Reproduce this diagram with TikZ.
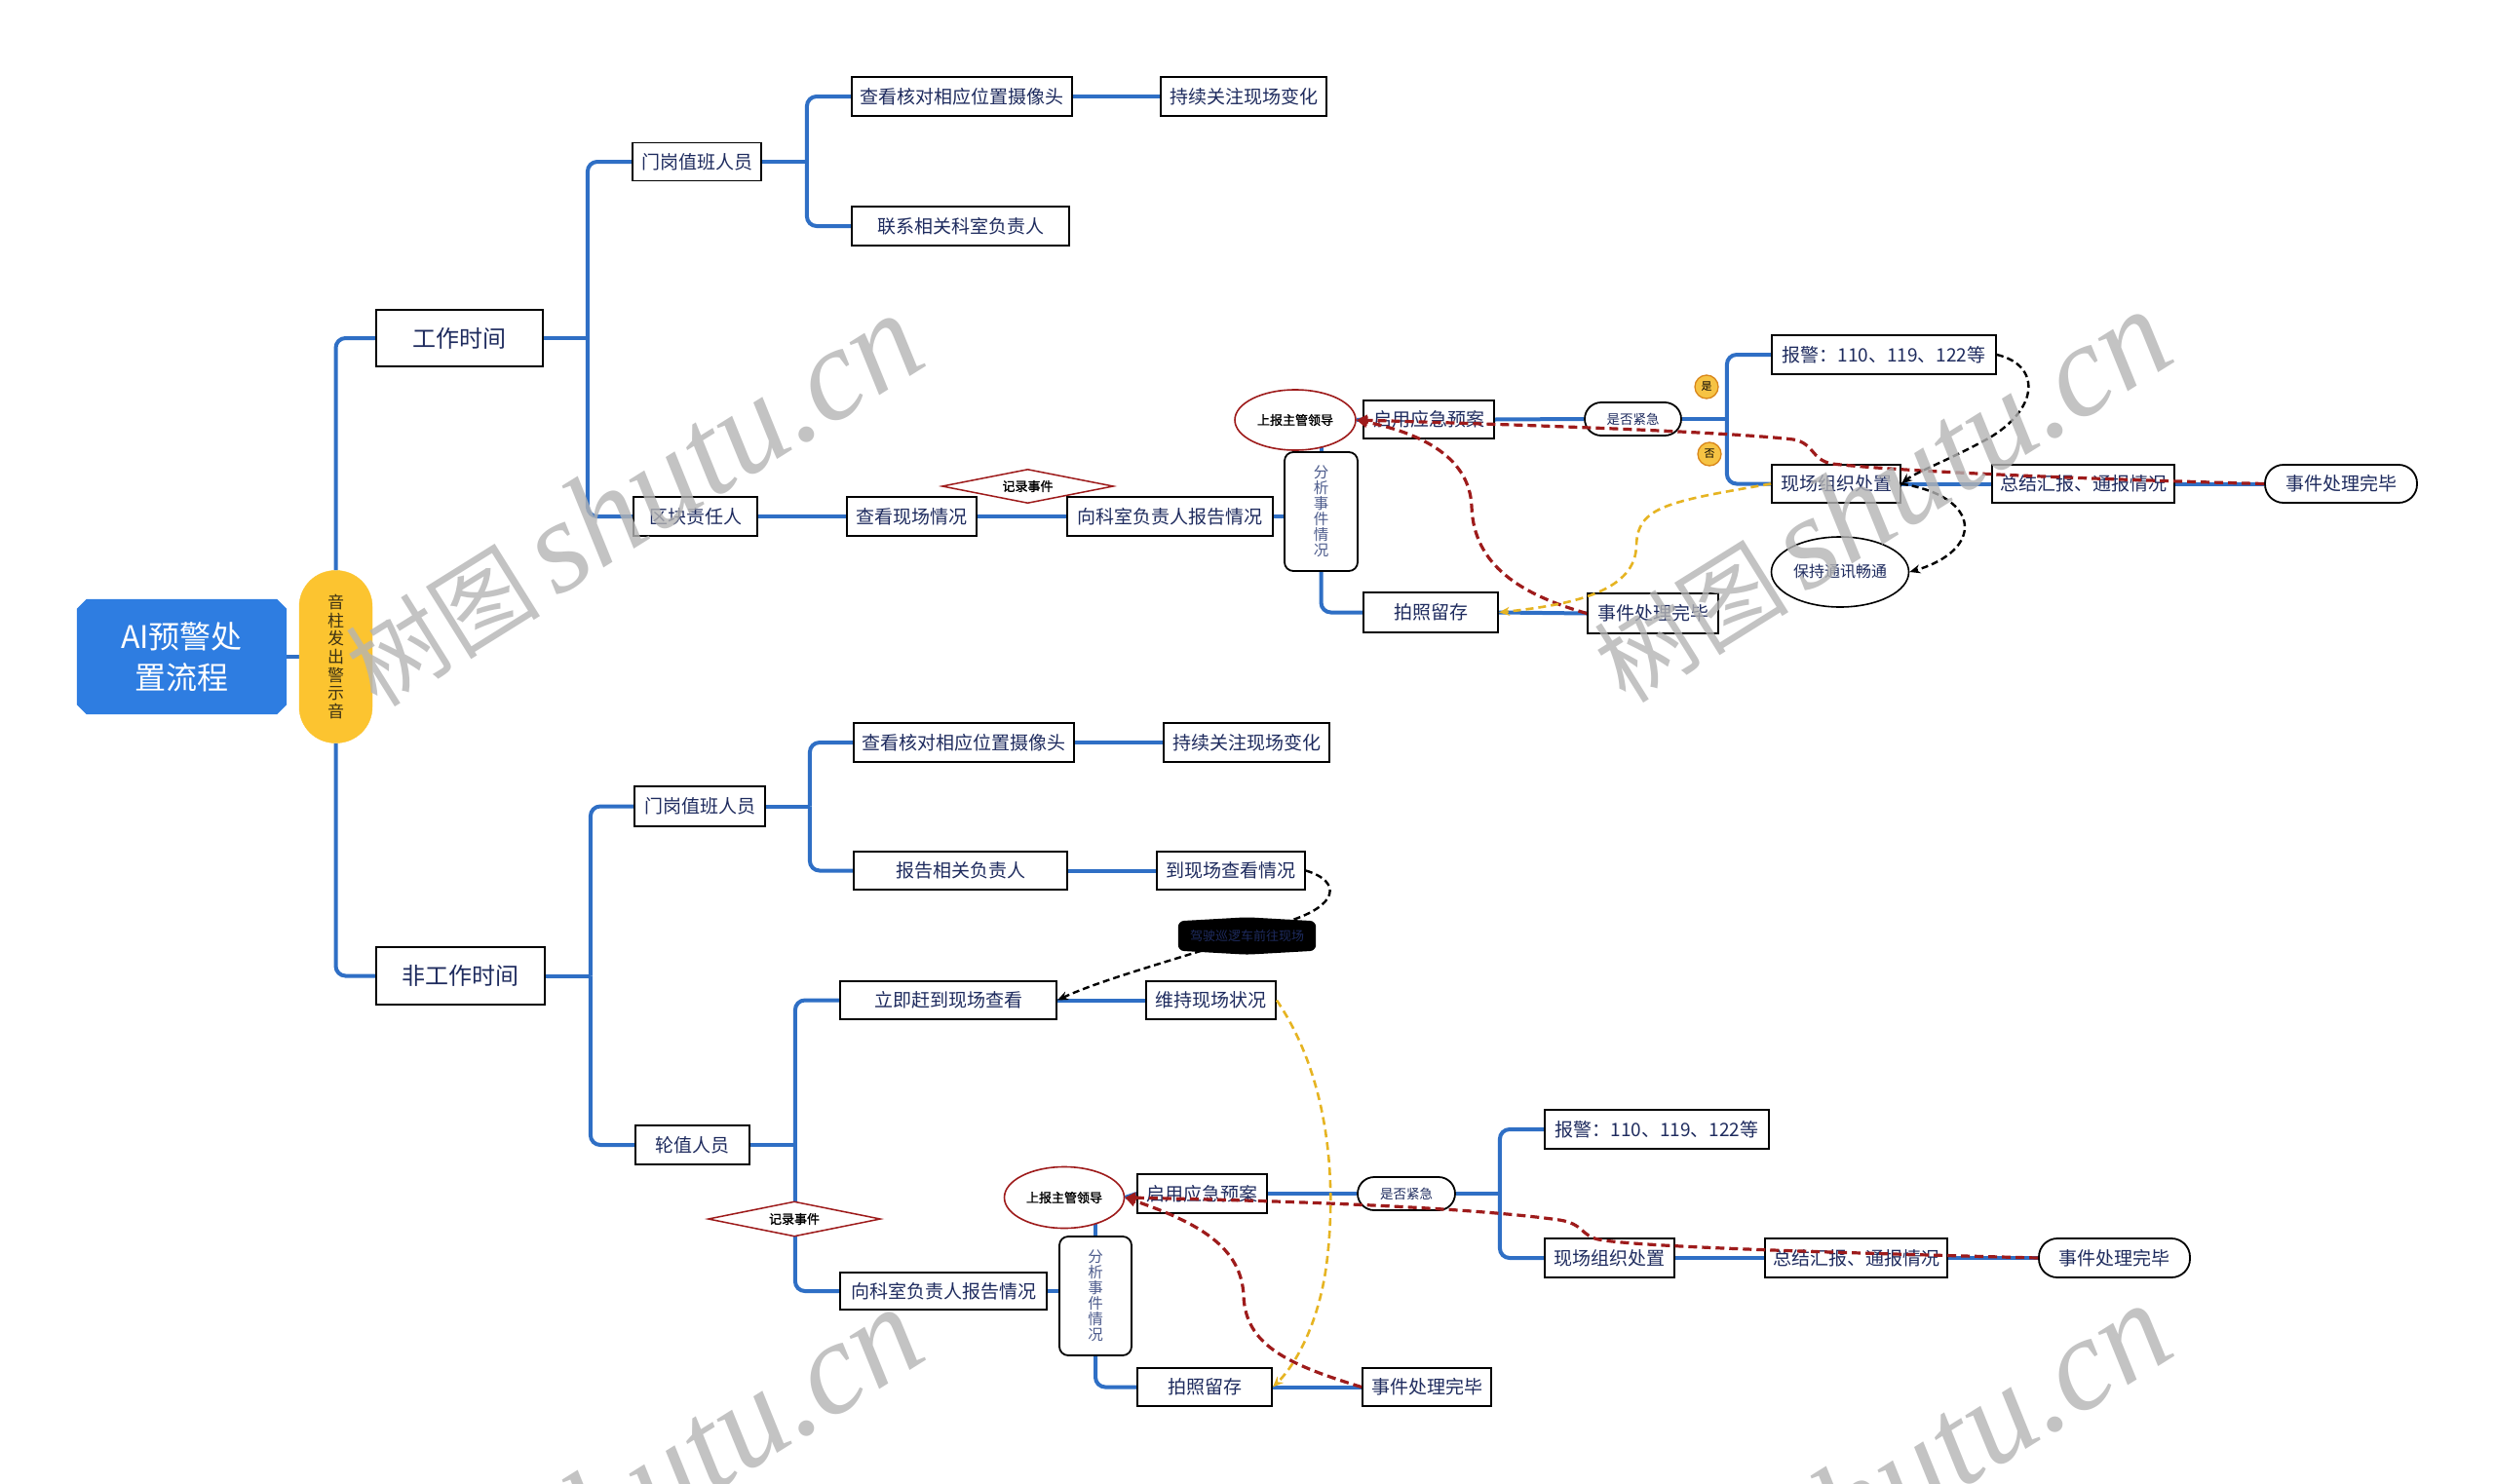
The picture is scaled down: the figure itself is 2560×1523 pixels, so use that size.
\documentclass[tikz,border=0pt]{standalone}
\usepackage{fontspec}
\setmainfont{Noto Sans CJK SC}[AutoFakeBold=1.5]
\newfontfamily\wmlatin{Liberation Serif}
\usetikzlibrary{shapes.geometric,shapes.misc,arrows.meta,calc}
\pgfdeclarelayer{bg}
\pgfdeclarelayer{mid}
\pgfdeclarelayer{fg}
\pgfsetlayers{bg,mid,main,fg}
\definecolor{lineblue}{HTML}{2F6FC5}
\definecolor{txt}{HTML}{1E2B5E}
\definecolor{rootblue}{HTML}{2E7DE1}
\definecolor{ybg}{HTML}{FCC430}
\definecolor{dred}{HTML}{9E1B1B}
\definecolor{dyel}{HTML}{E6B422}
\definecolor{anat}{HTML}{4C5B8C}
\definecolor{badge}{HTML}{F6C343}
\definecolor{badgeb}{HTML}{D9861A}
\definecolor{ytxt}{HTML}{3C3214}
\definecolor{wmgray}{HTML}{B4B4B4}
\tikzset{
  conn/.style={draw=lineblue, line width=4pt, rounded corners=10pt},
  box/.style={rectangle, draw=black, line width=1.8pt, fill=white, text=txt, inner sep=0pt, minimum height=40pt, font=\fontsize{19}{22}\selectfont},
  bigbox/.style={box, minimum height=58pt, font=\fontsize{24}{28}\selectfont},
  pill/.style={box, rounded corners=17pt, minimum height=34pt, font=\fontsize{13.5}{16}\selectfont},
  endpill/.style={box, rounded corners=19pt},
  redell/.style={ellipse, draw=dred, line width=1.6pt, fill=white, text=black, inner sep=0pt, font=\bfseries\fontsize{13}{15}\selectfont},
  blkell/.style={ellipse, draw=black, line width=1.6pt, fill=white, text=txt, inner sep=0pt, font=\fontsize{16}{18}\selectfont},
  recdia/.style={rectangle, text=black, inner sep=0pt, font=\bfseries\fontsize{13}{15}\selectfont},
  diaoutline/.style={fill=white, draw=dred, line width=1.5pt},
  anabox/.style={rectangle, rounded corners=9pt, draw=black, line width=1.8pt, fill=white, text=anat, inner sep=0pt, align=center, font=\fontsize{15.5}{16}\selectfont},
  badgenode/.style={circle, draw=badgeb, line width=1.3pt, fill=badge, inner sep=0pt, minimum size=24pt, text=black, font=\fontsize{11}{12}\selectfont},
  reddash/.style={draw=dred, line width=3.2pt, dash pattern=on 9pt off 5pt, -{Triangle[length=11pt,width=11pt]}},
  blkdash/.style={draw=black, line width=2.4pt, dash pattern=on 7pt off 4pt, -{Stealth[length=11pt,width=9pt]}},
  yeldash/.style={draw=dyel, line width=2.6pt, dash pattern=on 8pt off 5pt, -{Stealth[length=11pt,width=9pt]}},
  wm/.style={rotate=32, text=wmgray, opacity=0.8, inner sep=0pt},
}
\begin{document}
\begin{tikzpicture}[x=1pt,y=-1pt]
\useasboundingbox (0,0) rectangle (2560,1523);
\begin{pgfonlayer}{bg}
\fill[white] (0,0) rectangle (2560,1523);
\end{pgfonlayer}

% ---------- root ----------
\node[rectangle, text=white, minimum width=215pt, minimum height=118pt, inner sep=0pt, align=center, font=\fontsize{32}{42}\selectfont] (root) at (186.5,674) {AI预警处\\置流程};
\begin{pgfonlayer}{mid}
\fill[rootblue] ($(root.north west)+(10,0)$) -- ($(root.north east)+(-10,0)$) -- ($(root.north east)+(0,10)$) -- ($(root.south east)+(0,-10)$) -- ($(root.south east)+(-10,0)$) -- ($(root.south west)+(10,0)$) -- ($(root.south west)+(0,-10)$) -- ($(root.north west)+(0,10)$) -- cycle;
\end{pgfonlayer}
\node[rectangle, rounded corners=37pt, fill=ybg, draw=ybg, minimum width=75pt, minimum height=177pt, inner sep=0pt, align=center, text=ytxt, font=\fontsize{17}{18.6}\selectfont] (yel) at (344.5,674) {音\\柱\\发\\出\\警\\示\\音};

% ---------- working time ----------
\node[bigbox, minimum width=171pt] (work) at (471.5,347) {工作时间};
\node[box, minimum width=132pt, minimum height=39pt] (gate1) at (715,166) {门岗值班人员};
\node[box, minimum width=226pt] (cam1) at (987,99) {查看核对相应位置摄像头};
\node[box, minimum width=170pt] (watch1) at (1276,99) {持续关注现场变化};
\node[box, minimum width=223pt] (contact1) at (985.5,232) {联系相关科室负责人};
\node[box, minimum width=127pt] (block1) at (713.5,530) {区块责任人};
\node[box, minimum width=133pt] (see1) at (935.5,530) {查看现场情况};
\node[box, minimum width=211pt] (report1) at (1200.5,530) {向科室负责人报告情况};
\node[recdia, minimum width=175pt, minimum height=34pt] (rec1) at (1054.5,499) {记录事件};
\node[anabox, minimum width=75pt, minimum height=122pt] (ana1) at (1355.5,525) {分\\析\\事\\件\\情\\况};
\node[redell, minimum width=124pt, minimum height=62pt] (lead1) at (1329,431) {上报主管领导};
\node[box, minimum width=134pt, minimum height=39pt] (plan1) at (1466,430.5) {启用应急预案};
\node[pill, minimum width=99pt] (urg1) at (1675.5,430) {是否紧急};
\node[box, minimum width=230pt] (alarm1) at (1933,364) {报警：110、119、122等};
\node[box, minimum width=132pt, minimum height=39pt] (site1) at (1884,496.5) {现场组织处置};
\node[box, minimum width=187pt, minimum height=39pt] (sum1) at (2137.5,496.5) {总结汇报、通报情况};
\node[endpill, minimum width=156pt, minimum height=39pt] (fin1) at (2402,496.5) {事件处理完毕};
\node[blkell, minimum width=141pt, minimum height=72pt] (comm1) at (1888,587) {保持通讯畅通};
\node[box, minimum width=138pt, minimum height=41pt] (photo1) at (1468,628.5) {拍照留存};
\node[box, minimum width=134pt, minimum height=41pt] (done1) at (1696,629.5) {事件处理完毕};
\node[badgenode] (yes1) at (1751,397) {是};
\node[badgenode] (no1) at (1754,466) {否};

% ---------- non-working time ----------
\node[bigbox, minimum width=173pt, minimum height=59pt] (nonwork) at (472.5,1001.5) {非工作时间};
\node[box, minimum width=134pt, minimum height=41pt] (gate2) at (718,827.5) {门岗值班人员};
\node[box, minimum width=226pt] (cam2) at (989,762) {查看核对相应位置摄像头};
\node[box, minimum width=170pt] (watch2) at (1279,762) {持续关注现场变化};
\node[box, minimum width=219pt, minimum height=39pt] (rep2) at (985.5,893.5) {报告相关负责人};
\node[box, minimum width=152pt, minimum height=39pt] (go2) at (1263,893.5) {到现场查看情况};
\node[minimum width=141pt, minimum height=30pt, inner sep=0pt] (hex) at (1279.5,960.5) {};
\fill[black, rounded corners=6pt] (hex.north west) -- ($(hex.north)+(0,-4)$) -- (hex.north east) -- (hex.south east) -- ($(hex.south)+(0,4)$) -- (hex.south west) -- cycle;
\node[text=txt, inner sep=0pt, font=\fontsize{13}{15}\selectfont] (hextext) at (hex) {驾驶巡逻车前往现场};
\node[box, minimum width=222pt, minimum height=39pt] (rush2) at (973,1026.5) {立即赶到现场查看};
\node[box, minimum width=133pt, minimum height=39pt] (keep2) at (1242.5,1026.5) {维持现场状况};
\node[box, minimum width=117pt] (duty2) at (710.5,1175) {轮值人员};
\node[recdia, minimum width=176pt, minimum height=35pt] (rec2) at (815,1251) {记录事件};
\node[box, minimum width=212pt, minimum height=38pt] (report2) at (968,1325) {向科室负责人报告情况};
\node[anabox, minimum width=74pt, minimum height=122pt] (ana2) at (1124,1330) {分\\析\\事\\件\\情\\况};
\node[redell, minimum width=123pt, minimum height=63pt] (lead2) at (1092,1229) {上报主管领导};
\node[box, minimum width=133pt] (plan2) at (1233.5,1225) {启用应急预案};
\node[pill, minimum width=100pt] (urg2) at (1443,1225) {是否紧急};
\node[box, minimum width=230pt] (alarm2) at (1700,1159) {报警：110、119、122等};
\node[box, minimum width=133pt] (site2) at (1651.5,1291) {现场组织处置};
\node[box, minimum width=187pt] (sum2) at (1904.5,1291) {总结汇报、通报情况};
\node[endpill, minimum width=155pt] (fin2) at (2169.5,1291) {事件处理完毕};
\node[box, minimum width=138pt, minimum height=39pt] (photo2) at (1236,1423.5) {拍照留存};
\node[box, minimum width=132pt, minimum height=39pt] (done2) at (1464,1423.5) {事件处理完毕};

% diamond outlines (below their texts)
\begin{pgfonlayer}{mid}
\filldraw[diaoutline] (rec1.west) -- (rec1.north) -- (rec1.east) -- (rec1.south) -- cycle;
\filldraw[diaoutline] (rec2.west) -- (rec2.north) -- (rec2.east) -- (rec2.south) -- cycle;
\end{pgfonlayer}

% ---------- tree connectors ----------
\begin{pgfonlayer}{bg}
\draw[conn] (root.east) -- (yel.west);
\draw[conn] (yel.north) |- (work.west);
\draw[conn] (yel.south) |- (nonwork.west);
\coordinate (jw) at ($(work.east)+(45,0)$);
\draw[conn] (work.east) -- (jw);
\draw[conn] (jw) |- (gate1.west);
\draw[conn] (jw) |- (block1.west);
\coordinate (jg1) at ($(gate1.east)+(46,0)$);
\draw[conn] (gate1.east) -- (jg1);
\draw[conn] (jg1) |- (cam1.west);
\draw[conn] (jg1) |- (contact1.west);
\draw[conn] (cam1.east) -- (watch1.west);
\draw[conn] (block1.east) -- (see1.west);
\draw[conn] (see1.east) -- (report1.west);
\draw[conn] (report1.east) -- (report1.east -| ana1.west);
\draw[conn] (ana1.north) -- ++(0,-15);
\draw[conn] (ana1.south) |- (photo1.west);
\draw[conn] (photo1.east) -- (done1.west);
\draw[conn] (lead1.east) -- (plan1.west);
\draw[conn] (plan1.east) -- (urg1.west);
\coordinate (ju1) at ($(urg1.east)+(46,0)$);
\draw[conn] (urg1.east) -- (ju1);
\draw[conn] (ju1) |- (alarm1.west);
\draw[conn] (ju1) |- (site1.west);
\draw[conn] (site1.east) -- (sum1.west);
\draw[conn] (sum1.east) -- (fin1.west);
% bottom
\coordinate (jn) at ($(nonwork.east)+(46,0)$);
\draw[conn] (nonwork.east) -- (jn);
\draw[conn] (jn) |- (gate2.west);
\draw[conn] (jn) |- (duty2.west);
\coordinate (jg2) at ($(gate2.east)+(45,0)$);
\draw[conn] (gate2.east) -- (jg2);
\draw[conn] (jg2) |- (cam2.west);
\draw[conn] (jg2) |- (rep2.west);
\draw[conn] (cam2.east) -- (watch2.west);
\draw[conn] (rep2.east) -- (go2.west);
\draw[conn] (rush2.east) -- (keep2.west);
\coordinate (jd) at ($(duty2.east)+(46,0)$);
\draw[conn] (duty2.east) -- (jd);
\draw[conn] (jd) |- (rush2.west);
\draw[conn] (jd) |- (report2.west);
\draw[conn] (report2.east) -- (report2.east -| ana2.west);
\draw[conn] (ana2.north) -- ++(0,-20);
\draw[conn] (ana2.south) |- (photo2.west);
\draw[conn] (photo2.east) -- (done2.west);
\draw[conn] (lead2.east) -- (plan2.west);
\draw[conn] (plan2.east) -- (urg2.west);
\coordinate (ju2) at ($(urg2.east)+(45,0)$);
\draw[conn] (urg2.east) -- (ju2);
\draw[conn] (ju2) |- (alarm2.west);
\draw[conn] (ju2) |- (site2.west);
\draw[conn] (site2.east) -- (sum2.west);
\draw[conn] (sum2.east) -- (fin2.west);
\end{pgfonlayer}

% ---------- dashed relations ----------
\draw[reddash] (fin1.west) .. controls (2150,492) and (1950,484) .. (1880,476) .. controls (1858,472) and (1862,455) .. (1840,451) .. controls (1780,444) and (1600,437) .. (lead1.east);
\draw[reddash] (done1.west) .. controls (1560,610) and (1512,580) .. (1510,520) .. controls (1508,470) and (1460,445) .. (lead1.east);
\draw[yeldash] (site1.west) .. controls (1710,515) and (1680,520) .. (1679,560) .. controls (1678,605) and (1620,620) .. (photo1.east);
\draw[blkdash] (alarm1.east) .. controls (2095,375) and (2092,420) .. (2040,450) .. controls (2000,472) and (1965,485) .. (site1.east);
\draw[blkdash] (site1.east) .. controls (2035,510) and (2035,565) .. (comm1.east);

\draw[blkdash, -] (go2.east) .. controls (1378,905) and (1372,930) .. ($(hex.north east)+(-28,0)$);
\draw[blkdash] ($(hex.south west)+(24,0)$) .. controls (1170,995) and (1120,1010) .. (rush2.east);
\draw[yeldash] (keep2.east) .. controls (1360,1100) and (1372,1200) .. (1362,1290) .. controls (1355,1355) and (1330,1400) .. (photo2.east);
\draw[reddash] (done2.west) .. controls (1320,1400) and (1278,1380) .. (1276,1330) .. controls (1274,1280) and (1230,1255) .. (lead2.east);
\draw[reddash] (fin2.west) .. controls (1900,1286) and (1680,1280) .. (1640,1272) .. controls (1622,1268) and (1625,1256) .. (1600,1252) .. controls (1500,1238) and (1300,1232) .. (lead2.east);

% ---------- watermarks ----------
\begin{pgfonlayer}{fg}
\node[wm] (wm1) at (649,514) {\fontsize{100}{110}\selectfont 树图\,{\wmlatin\itshape\fontsize{135}{140}\selectfont shutu.cn}};
\node[wm] (wm2) at (1930,510) {\fontsize{100}{110}\selectfont 树图\,{\wmlatin\itshape\fontsize{135}{140}\selectfont shutu.cn}};
\node[wm] (wm3) at (649,1534) {\fontsize{100}{110}\selectfont 树图\,{\wmlatin\itshape\fontsize{135}{140}\selectfont shutu.cn}};
\node[wm] (wm4) at (1930,1530) {\fontsize{100}{110}\selectfont 树图\,{\wmlatin\itshape\fontsize{135}{140}\selectfont shutu.cn}};
\end{pgfonlayer}
\end{tikzpicture}
\end{document}
